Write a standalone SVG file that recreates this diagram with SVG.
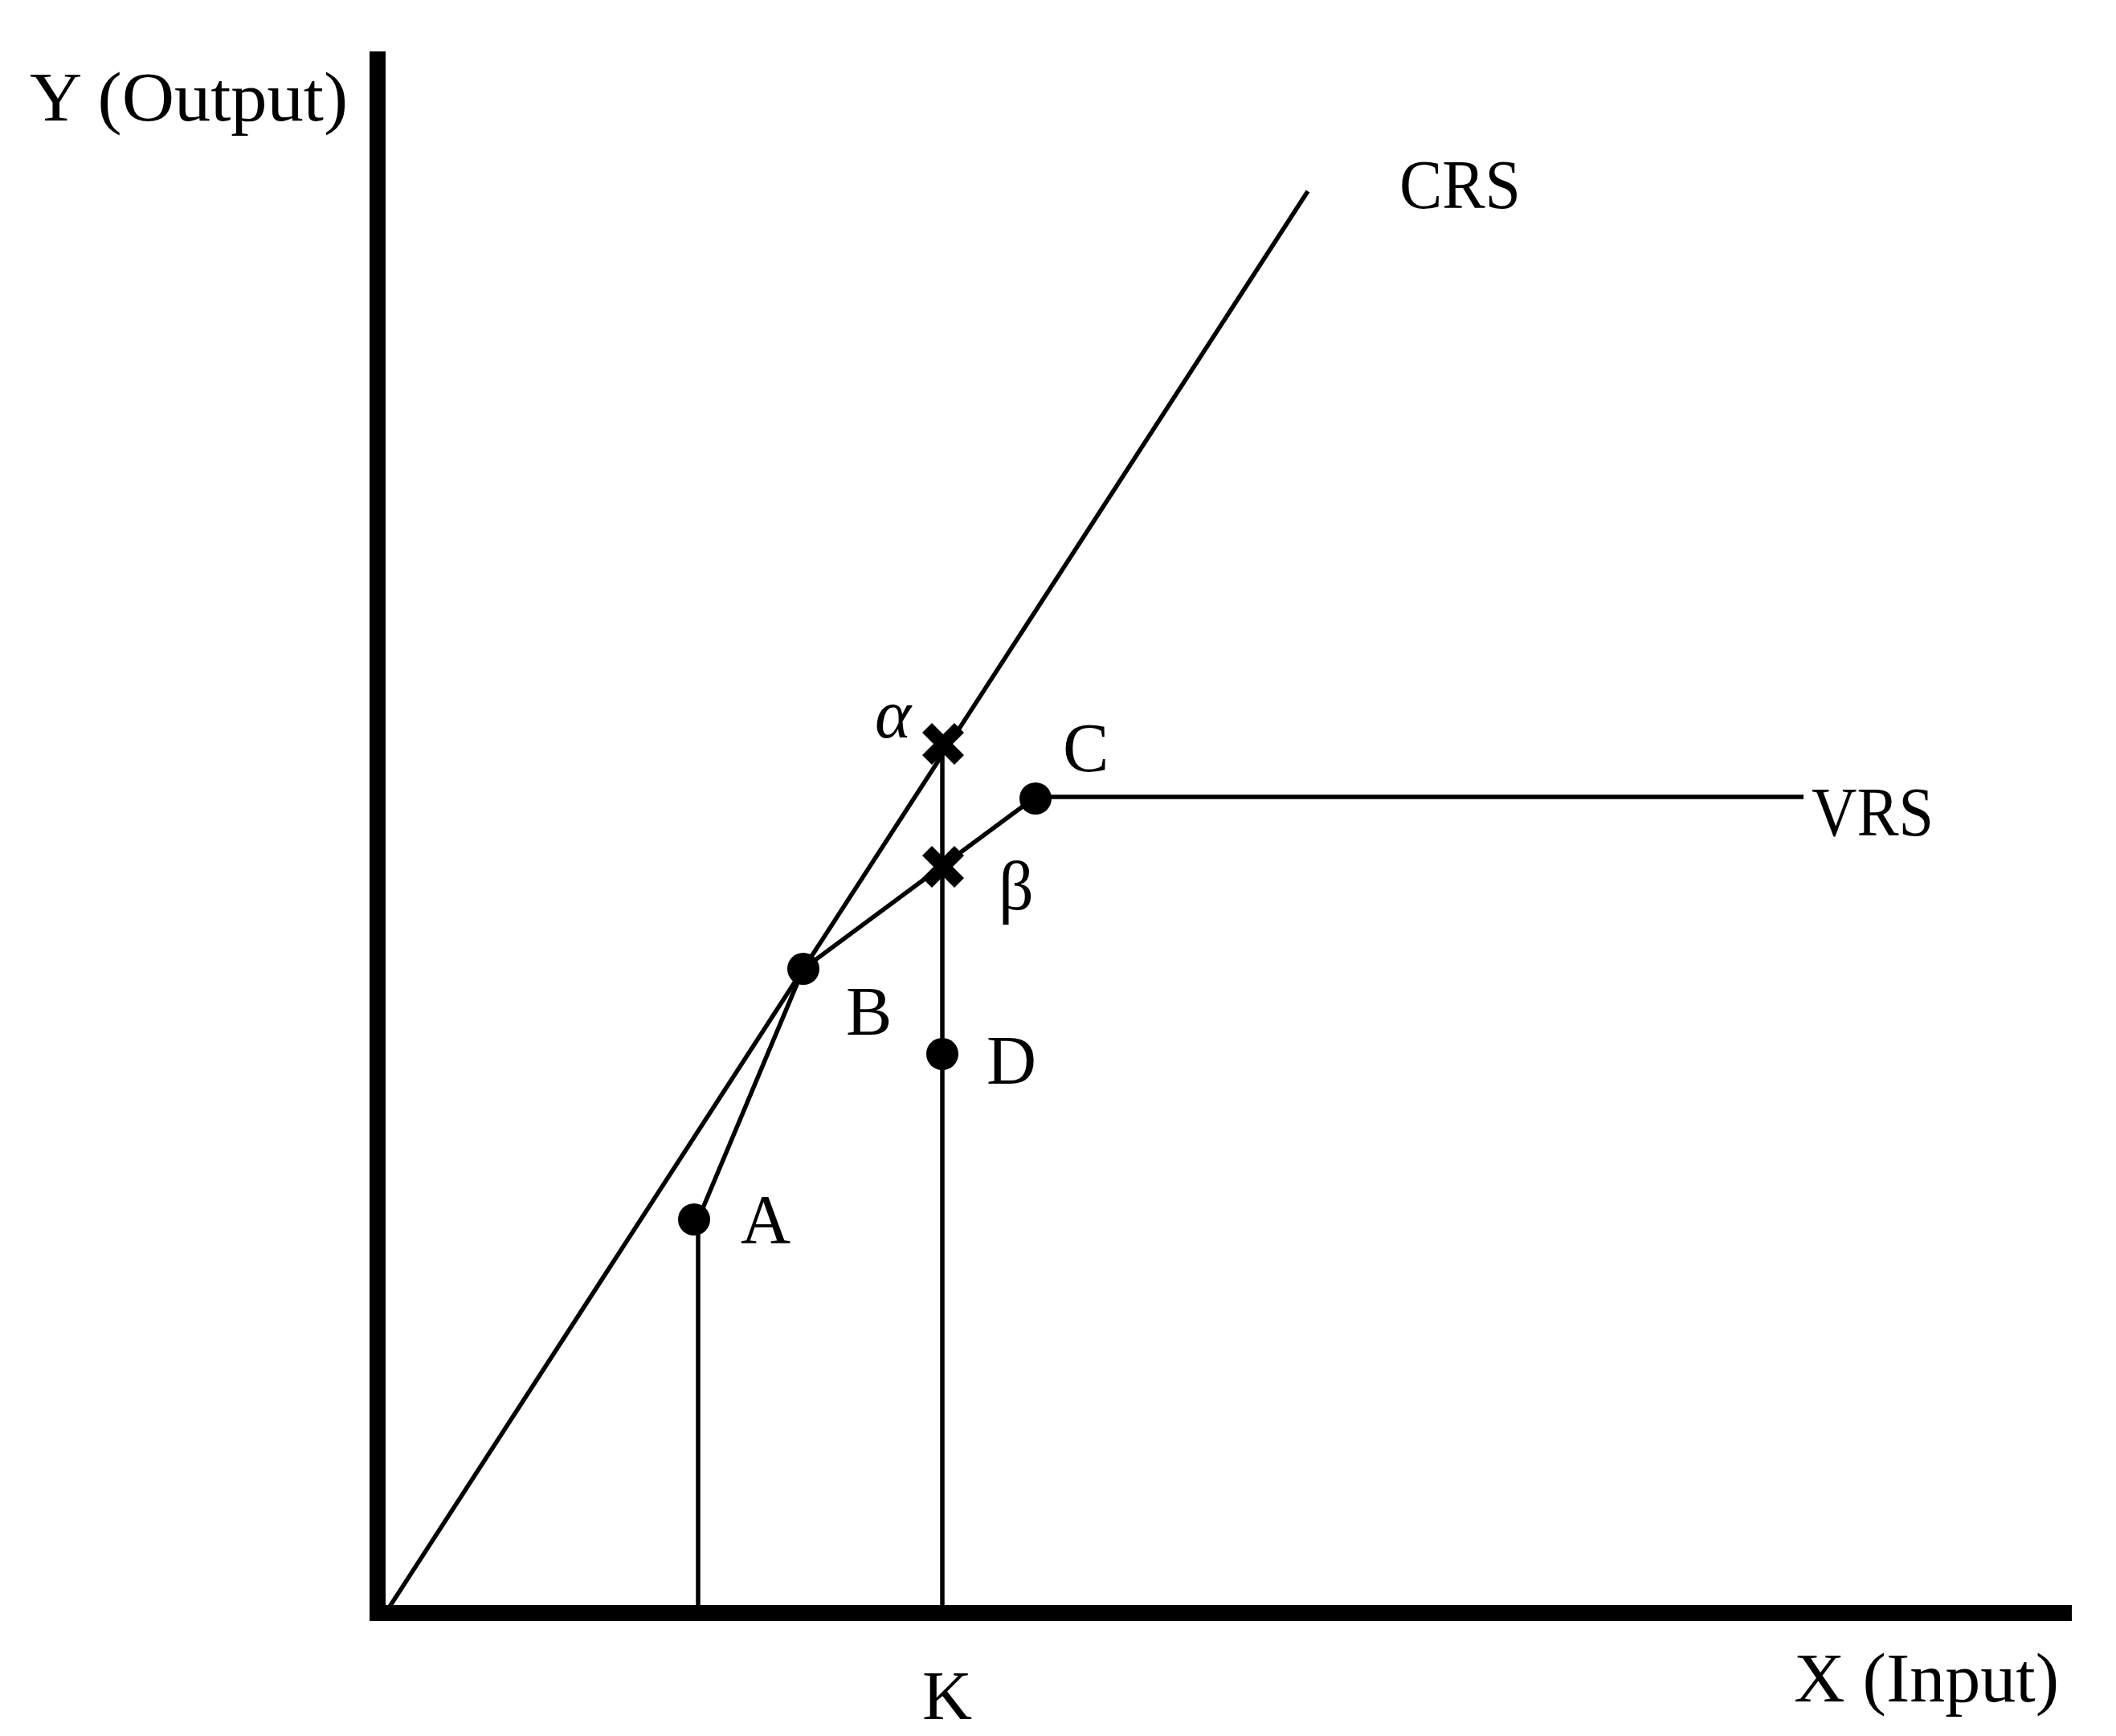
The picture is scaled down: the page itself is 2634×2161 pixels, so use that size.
<svg xmlns="http://www.w3.org/2000/svg" width="2634" height="2161" viewBox="0 0 2634 2161">
  <style>
    .lbl { font-family: "Liberation Serif", "DejaVu Serif", serif; font-size: 86px; fill: #000; }
    .ln { fill: none; stroke: #000; stroke-width: 5.5; }
    .dot { fill: #000; }
    .x { stroke: #000; stroke-width: 17; stroke-linecap: butt; }
  </style>
  <defs>
    <g id="cross">
      <line class="x" x1="-20" y1="-20" x2="20" y2="20"/>
      <line class="x" x1="-20" y1="20" x2="20" y2="-20"/>
    </g>
  </defs>
  <rect width="2634" height="2161" fill="#fff"/>

  <g id="axes">
    <path d="M470,64 V2008 H2579" fill="none" stroke="#000" stroke-width="20" stroke-linejoin="miter" stroke-linecap="butt"/>
    <text class="lbl" x="37" y="150" textLength="396" lengthAdjust="spacingAndGlyphs">Y (Output)</text>
    <text class="lbl" x="2233" y="2118" textLength="330" lengthAdjust="spacingAndGlyphs">X (Input)</text>
  </g>

  <g id="connectors">
    <line id="crs-line" class="ln" x1="485" y1="2000" x2="1628" y2="238"/>
    <polyline id="vrs-line" class="ln" points="869,1998 869,1518 1000,1206 1289,992 2245,992"/>
    <line id="k-line" class="ln" x1="1173" y1="926" x2="1173" y2="1998"/>
  </g>

  <g id="crs">
    <text class="lbl" x="1742" y="259" textLength="151" lengthAdjust="spacingAndGlyphs">CRS</text>
  </g>
  <g id="vrs">
    <text class="lbl" x="2255" y="1040" textLength="152" lengthAdjust="spacingAndGlyphs">VRS</text>
  </g>

  <g id="node-A">
    <circle class="dot" cx="864" cy="1518" r="20"/>
    <text class="lbl" x="922" y="1547">A</text>
  </g>
  <g id="node-B">
    <circle class="dot" cx="1000" cy="1206" r="20"/>
    <text class="lbl" x="1053" y="1288">B</text>
  </g>
  <g id="node-C">
    <circle class="dot" cx="1289" cy="994" r="20"/>
    <text class="lbl" x="1323" y="960">C</text>
  </g>
  <g id="node-D">
    <circle class="dot" cx="1173" cy="1312" r="20"/>
    <text class="lbl" x="1228" y="1349">D</text>
  </g>
  <g id="node-alpha">
    <use href="#cross" x="1174" y="926"/>
    <text class="lbl" x="1089" y="918" font-style="italic">α</text>
  </g>
  <g id="node-beta">
    <use href="#cross" x="1174" y="1079"/>
    <text class="lbl" x="1243" y="1132">β</text>
  </g>
  <g id="node-K">
    <text class="lbl" x="1148" y="2140">K</text>
  </g>
</svg>
